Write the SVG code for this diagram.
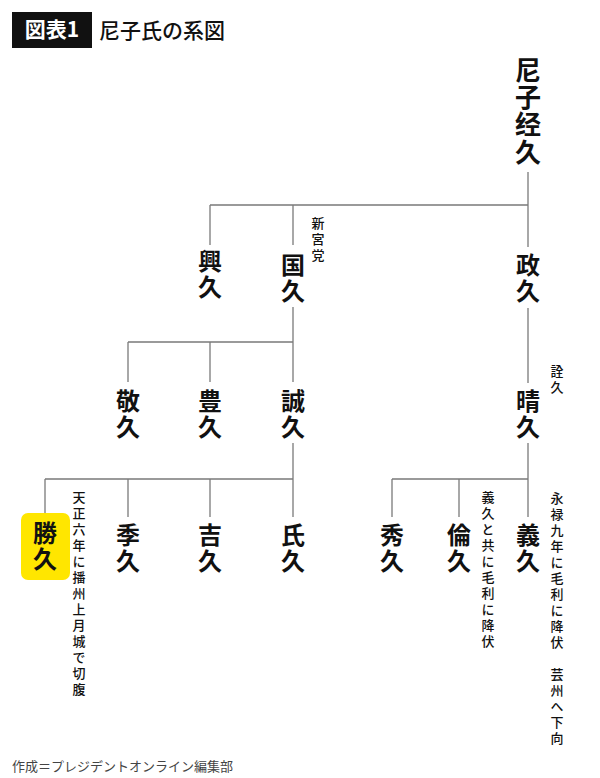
<svg xmlns="http://www.w3.org/2000/svg" width="600" height="778" viewBox="0 0 600 778">
<style>
.nm{font-family:"Noto Sans CJK JP","Noto Sans CJK SC",sans-serif;font-weight:700;font-size:24px;fill:#111;writing-mode:vertical-rl;letter-spacing:2px}
.big{font-size:26px;letter-spacing:1.3px}
.note{font-family:"Noto Sans CJK JP",sans-serif;font-weight:500;font-size:13px;fill:#111;writing-mode:vertical-rl;letter-spacing:3px}
.ln{stroke:#7a7a7a;stroke-width:1.3;fill:none}
</style>
<rect width="600" height="778" fill="#fff"/>
<g id="title">
<rect x="12" y="12" width="80" height="36" fill="#111"/>
<text x="52" y="37" font-family="Noto Sans CJK JP,sans-serif" font-weight="700" font-size="21" fill="#fff" text-anchor="middle">図表1</text>
<text x="99" y="38" font-family="Noto Sans CJK JP,sans-serif" font-weight="500" font-size="21" fill="#111">尼子氏の系図</text>
</g>
<g id="connectors" class="ln">
<path d="M528 172V247M210 205H528M210 205V245M293 205V245"/>
<path d="M528 308V383M293 307V342M128 342H293M128 342V382M210 342V382M293 342V382"/>
<path d="M293 443V479M45 479H293M45 479V514M128 479V517M210 479V517M293 479V517"/>
<path d="M528 443V479M392 479H528M392 479V517M459 479V517M528 479V517"/>
</g>
<g id="n-tsunehisa"><text class="nm big" x="528" y="57">尼子经久</text></g>
<g id="n-okihisa"><text class="nm" x="210" y="249">興久</text></g>
<g id="n-kunihisa"><text class="nm" x="293" y="253">国久</text>
<text class="note" x="318" y="217">新宮党</text></g>
<g id="n-masahisa"><text class="nm" x="528" y="253">政久</text></g>
<g id="n-takahisa"><text class="nm" x="128" y="389">敬久</text></g>
<g id="n-toyohisa"><text class="nm" x="210" y="389">豊久</text></g>
<g id="n-sanehisa"><text class="nm" x="293" y="389">誠久</text></g>
<g id="n-haruhisa"><text class="nm" x="528" y="389">晴久</text>
<text class="note" x="557" y="365">詮久</text></g>
<g id="n-katsuhisa">
<rect x="21" y="513" width="49" height="67" rx="7" fill="#ffe600"/>
<text class="nm" x="45" y="521">勝久</text>
<text class="note" x="79" y="491">天正六年に播州上月城で切腹</text></g>
<g id="n-suehisa"><text class="nm" x="128" y="523">季久</text></g>
<g id="n-yoshihisa2"><text class="nm" x="210" y="523">吉久</text></g>
<g id="n-ujihisa"><text class="nm" x="293" y="523">氏久</text></g>
<g id="n-hidehisa"><text class="nm" x="392" y="523">秀久</text></g>
<g id="n-michihisa"><text class="nm" x="459" y="523">倫久</text>
<text class="note" x="488" y="491">義久と共に毛利に降伏</text></g>
<g id="n-yoshihisa"><text class="nm" x="528" y="523">義久</text>
<text class="note" x="557" y="492">永禄九年に毛利に降伏　芸州へ下向</text></g>
<text x="12" y="771" font-family="Noto Sans CJK JP,sans-serif" font-size="13" fill="#444">作成＝プレジデントオンライン編集部</text>
</svg>
